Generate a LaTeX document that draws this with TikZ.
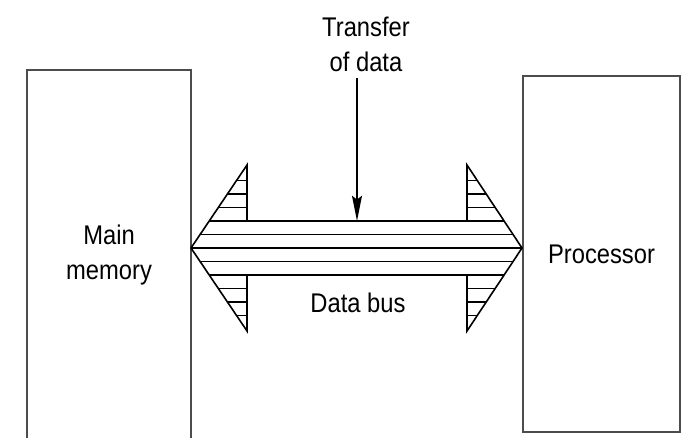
\documentclass[tikz,border=0pt]{standalone}
\usepackage{fontspec}
\setmainfont{Liberation Sans}[FakeStretch=0.88]
\usetikzlibrary{arrows.meta}

\tikzset{every picture/.style={line width=1pt}}
\tikzset{
  unitbox/.style={draw=black!70, line width=1.1pt, align=center, inner sep=0pt,
    font=\fontsize{20.25}{26.25}\selectfont},
  bustext/.style={inner sep=0.75pt, align=center, font=\fontsize{20.25}{26.25}\selectfont},
  hatch/.style={line width=1.2pt, black},
}

\begin{document}
\begin{tikzpicture}[x=0.75pt,y=0.75pt,yscale=-1,xscale=1]
\path[use as bounding box, clip] (0,0) rectangle (684,438);

%Shape: Rectangle [id:mem] (open at the bottom, runs off the page)
\node [unitbox, minimum width=123pt, minimum height=277.5pt] (mem) at (109,255) {Main\\memory};
%Shape: Rectangle [id:proc]
\node [unitbox, minimum width=117.75pt, minimum height=267pt] (proc) at (601.5,254) {Processor};

%Shape: Double Arrow [id:bus] hatching
\begin{scope}
\clip (191,248) -- (247,165) -- (247,221) -- (467,221) -- (467,165) -- (522,248) -- (467,331) -- (467,275) -- (247,275) -- (247,331) -- cycle ;
\foreach \k in {-6,...,6}
  \draw [hatch] (185,248+13.5*\k) -- (530,248+13.5*\k) ;
\end{scope}
%Shape: Double Arrow [id:bus] outline
\draw [line width=1.2pt, line join=miter] (247,221) -- (247,165) -- (191,248) -- (247,331) -- (247,275) (467,221) -- (467,165) -- (522,248) -- (467,331) -- (467,275) ;
%Straight Lines [id:bustop]
\draw [line width=2.1pt] (246.5,221) -- (467.5,221) ;
%Straight Lines [id:busbot]
\draw [line width=2.1pt] (246.5,275) -- (467.5,275) ;
\coordinate (hit) at (357,221) ;

% Text Node
\draw (366,44) node [bustext] (xfer) {Transfer\\of data};
% Text Node
\draw (358,303) node [bustext] (bus) {Data bus};

%Straight Lines [id:xferarrow]
\draw [-{Stealth[length=19pt,width=7.5pt,inset=3pt]}, line width=0.9pt, shorten <=4pt] (xfer.south -| hit) -- (hit) ;

\end{tikzpicture}
\end{document}
